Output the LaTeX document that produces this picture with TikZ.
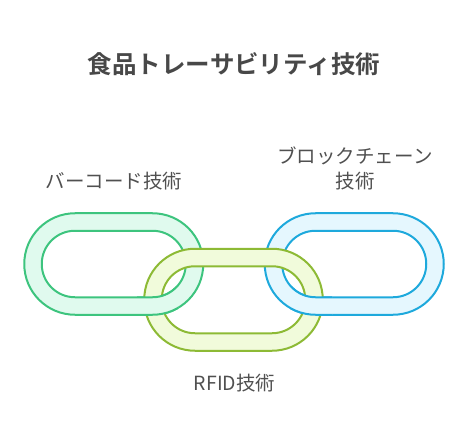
\documentclass[tikz,border=0pt]{standalone}
\usepackage{fontspec}
\newfontfamily\cjk{Noto Sans CJK JP}
\newfontfamily\cjkbold{Noto Sans CJK JP Bold}
\definecolor{gstroke}{HTML}{3DC47E}
\definecolor{gfill}{HTML}{E0FAEE}
\definecolor{ystroke}{HTML}{8DBA35}
\definecolor{yfill}{HTML}{F1FBDB}
\definecolor{bstroke}{HTML}{1EA9DC}
\definecolor{bfill}{HTML}{E5F7FE}
\definecolor{titlegray}{HTML}{484848}
\definecolor{labelgray}{HTML}{505050}
\tikzset{
  linkband/.style={line width=2bp, even odd rule},
  titletext/.style={font=\cjkbold\fontsize{24.5bp}{30bp}\selectfont, text=titlegray, inner sep=0pt},
  labeltext/.style={font=\cjk\fontsize{19.5bp}{25bp}\selectfont, text=labelgray, inner sep=0pt, align=center}
}
% #1,#2 = top-left of centre line, #3,#4 = bottom-right of centre line
\newcommand{\chainlink}[6]{%
  \path[linkband, draw=#5, fill=#6]
    [rounded corners=50.75bp] (#1-8.75,#2-8.75) rectangle (#3+8.75,#4+8.75)
    [rounded corners=33.25bp] (#1+8.75,#2+8.75) rectangle (#3-8.75,#4-8.75);
}
\begin{document}
\begin{tikzpicture}[x=1bp,y=-1bp]
\useasboundingbox (0,0) rectangle (468,444);
% green and blue links
\chainlink{33}{222}{194.5}{306}{gstroke}{gfill}
\chainlink{273.5}{222}{435}{306}{bstroke}{bfill}
% yellow link on top
\chainlink{153}{257.5}{314}{342}{ystroke}{yfill}
% green and blue bottom bands over yellow
\begin{scope}
  \clip (137,286) rectangle (178,328);
  \chainlink{33}{222}{194.5}{306}{gstroke}{gfill}
\end{scope}
\begin{scope}
  \clip (290,286) rectangle (332,328);
  \chainlink{273.5}{222}{435}{306}{bstroke}{bfill}
\end{scope}
% texts
\node[titletext] (title) at (234,64.5) {食品トレーサビリティ技術};
\node[labeltext] (barcode) at (114,181) {バーコード技術};
\node[labeltext] (blockchain) at (355,168.5) {ブロックチェーン\\技術};
\node[labeltext] (rfid) at (234.5,383) {RFID技術};
\end{tikzpicture}
\end{document}
